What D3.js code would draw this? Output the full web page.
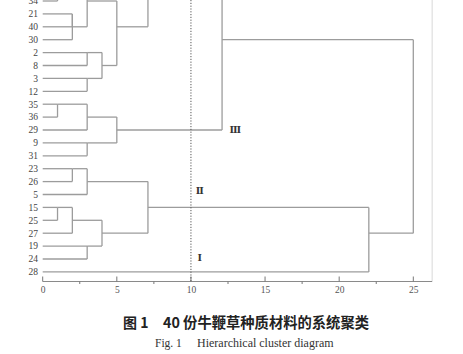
<!DOCTYPE html>
<html>
<head>
<meta charset="utf-8">
<script src="https://cdn.jsdelivr.net/npm/d3@7"></script>
<style>
  body { margin: 0; background: #fff; }
  svg { display: block; }
  .link { fill: none; stroke: #9c9c9c; stroke-width: 1.3; }
  .leaf { font-family: "Liberation Serif", serif; font-size: 9.5px; fill: #444; }
  .tick text { font-family: "Liberation Serif", serif; font-size: 9.5px; fill: #555; }
</style>
</head>
<body>
<div id="chart"></div>
<script>
// leaves in display order (top rows of the tree fall outside the picture)
var leafLabels = ["34", "21", "40", "30", "2", "8", "3", "12", "35", "36", "29",
                  "9", "31", "23", "26", "5", "15", "25", "27", "19", "24", "28"];

// branches that continue above the visible part: id and row (negative = above)
var offRows = [["u1", -1], ["u2", -8]];

// merges: [id, child a, child b, rescaled distance]
var merges = [
  ["m1", "34", "u1", 1],
  ["m2", "21", "40", 2],
  ["m3", "m2", "30", 2],
  ["m4", "m1", "m3", 3],
  ["m5", "2", "8", 3],
  ["m6", "3", "12", 3],
  ["m7", "m5", "m6", 4],
  ["m8", "m4", "m7", 5],
  ["m9", "u2", "m8", 7.1],
  ["m10", "35", "36", 1],
  ["m11", "m10", "29", 3],
  ["m12", "9", "31", 3],
  ["m13", "m11", "m12", 5],
  ["m14", "m9", "m13", 12.1],
  ["m15", "23", "26", 2],
  ["m16", "m15", "5", 3],
  ["m17", "15", "25", 1],
  ["m18", "m17", "27", 2],
  ["m19", "19", "24", 3],
  ["m20", "m18", "m19", 4],
  ["m21", "m16", "m20", 7.1],
  ["m22", "m21", "28", 22],
  ["m23", "m14", "m22", 25]
];

var xTicks = [0, 5, 10, 15, 20, 25];
var minorTicks = [2.5, 7.5, 12.5, 17.5, 22.5];
var cutLevel = 10;
var groupLabels = [["Ⅲ", 13, 10], ["Ⅱ", 10.6, 14.7], ["Ⅰ", 10.6, 19.9]];

var W = 463, H = 354;

var x = d3.scaleLinear().domain([0, 25]).range([42.7, 413.3]);
var y = d3.scaleLinear().domain([0, 21]).range([1, 271.9]);
var axisY = 281.5;

var svg = d3.select("#chart").append("svg")
    .attr("width", W)
    .attr("height", H);

// row and height of every node
var nodes = {};
leafLabels.forEach(function(l, i) { nodes[l] = {row: i, h: 0}; });
offRows.forEach(function(d) { nodes[d[0]] = {row: d[1], h: 0}; });

var segs = [];
merges.forEach(function(m) {
  var a = nodes[m[1]], b = nodes[m[2]], h = m[3];
  // horizontal lines from each child out to the join height
  segs.push([a.h, a.row, h, a.row]);
  segs.push([b.h, b.row, h, b.row]);
  segs.push([h, a.row, h, b.row]);
  nodes[m[0]] = {row: Math.floor((a.row + b.row) / 2), h: h};
});

svg.append("g").selectAll("line")
    .data(segs)
  .enter().append("line")
    .attr("class", "link")
    .attr("x1", function(d) { return x(d[0]); })
    .attr("y1", function(d) { return y(d[1]); })
    .attr("x2", function(d) { return x(d[2]); })
    .attr("y2", function(d) { return y(d[3]); });

// frame on the right
svg.append("line")
    .attr("x1", x(26.27)).attr("x2", x(26.27))
    .attr("y1", 0).attr("y2", axisY)
    .attr("stroke", "#d8d8d8").attr("stroke-width", 1);

// leaf labels
svg.append("g").selectAll("text")
    .data(leafLabels)
  .enter().append("text")
    .attr("class", "leaf")
    .attr("x", 38)
    .attr("y", function(d, i) { return y(i); })
    .attr("dy", "0.35em")
    .attr("text-anchor", "end")
    .text(function(d) { return d; });

// axis
var axis = svg.append("g")
    .attr("transform", "translate(0," + axisY + ")")
    .call(d3.axisBottom(x).tickValues(xTicks).tickSize(0).tickPadding(5));
axis.select(".domain").remove();
axis.append("line")
    .attr("x1", x(0)).attr("x2", x(26.27))
    .attr("stroke", "#8a8a8a").attr("stroke-width", 1);
axis.selectAll(".major")
    .data(xTicks)
  .enter().append("line")
    .attr("x1", function(d) { return x(d); })
    .attr("x2", function(d) { return x(d); })
    .attr("y1", -5).attr("y2", 0)
    .attr("stroke", "#777");
axis.selectAll(".minor")
    .data(minorTicks)
  .enter().append("line")
    .attr("x1", function(d) { return x(d); })
    .attr("x2", function(d) { return x(d); })
    .attr("y1", 0).attr("y2", 2.5)
    .attr("stroke", "#777");

// cut line
svg.append("line")
    .attr("x1", x(cutLevel)).attr("x2", x(cutLevel))
    .attr("y1", 0).attr("y2", axisY)
    .attr("stroke", "#555")
    .attr("stroke-width", 1)
    .attr("stroke-dasharray", "1.2,1.6");

svg.append("g").selectAll("text")
    .data(groupLabels)
  .enter().append("text")
    .attr("x", function(d) { return x(d[1]); })
    .attr("y", function(d) { return y(d[2]); })
    .attr("dy", "0.35em")
    .attr("text-anchor", "middle")
    .style("font-family", "'DejaVu Serif', serif")
    .style("font-weight", "bold")
    .style("font-size", "9.5px")
    .style("fill", "#333")
    .text(function(d) { return d[0]; });

// captions
svg.append("text")
    .attr("x", 123).attr("y", 328)
    .style("font-family", "'Noto Sans CJK SC', sans-serif")
    .style("font-weight", "bold")
    .style("font-size", "14px")
    .style("fill", "#222")
    .text("图 1");
svg.append("text")
    .attr("x", 163).attr("y", 328)
    .style("font-family", "'Noto Sans CJK SC', sans-serif")
    .style("font-weight", "bold")
    .style("font-size", "14.3px")
    .style("fill", "#222")
    .text("40 份牛鞭草种质材料的系统聚类");
svg.append("text")
    .attr("x", 155).attr("y", 347)
    .style("font-family", "'Liberation Serif', serif")
    .style("font-size", "11.5px")
    .style("fill", "#333")
    .text("Fig. 1");
svg.append("text")
    .attr("x", 197).attr("y", 347)
    .style("font-family", "'Liberation Serif', serif")
    .style("font-size", "12px")
    .style("fill", "#333")
    .text("Hierarchical cluster diagram");
</script>
</body>
</html>
